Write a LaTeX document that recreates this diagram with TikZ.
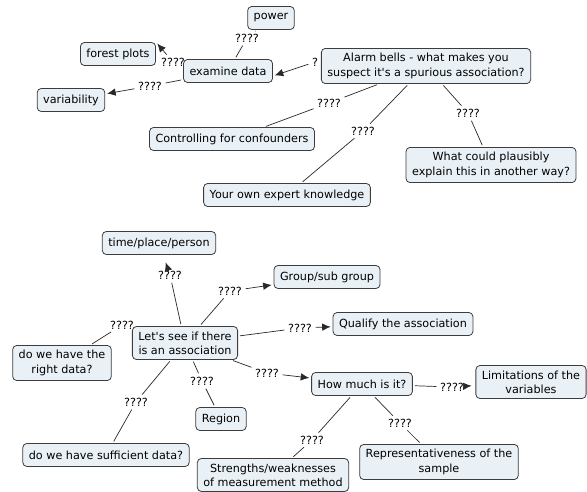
\documentclass[tikz,border=0pt]{standalone}
\usepackage{fontspec}
\setmainfont{DejaVu Sans}
\usepackage{xcolor}
\usepackage{tikz}
\usetikzlibrary{arrows.meta}
\definecolor{mapfill}{RGB}{234,241,246}
\definecolor{mapborder}{RGB}{60,60,60}
\definecolor{mapedge}{RGB}{40,40,40}
\tikzset{
  mapnode/.style={rectangle, rounded corners=4pt, draw=mapborder, line width=0.8pt, fill=mapfill, align=center, inner xsep=6pt, inner ysep=5pt, minimum height=23pt, font=\fontsize{11.2}{14.3}\selectfont},
  maplabel/.style={inner sep=1.5pt, font=\fontsize{11.2}{14.3}\selectfont},
  mapline/.style={draw=mapedge, line width=0.7pt, shorten <=2pt, shorten >=2pt},
  maparrow/.style={mapline, -{Latex[length=8.5pt,width=7.5pt]}}
}
\begin{document}
\begin{tikzpicture}[x=1pt, y={(0pt,-1pt)}]
\useasboundingbox (0,0) rectangle (587,492);

\node[mapnode] (power) at (271,18) {power};
\node[mapnode] (forest) at (118,54) {forest plots};
\node[mapnode] (examine) at (228,71) {examine data};
\node[mapnode] (variab) at (71,100) {variability};
\node[mapnode] (alarm) at (426,66) {Alarm bells - what makes you\\suspect it\textquotesingle s a spurious association?};
\node[mapnode] (control) at (232,139) {Controlling for confounders};
\node[mapnode] (plaus) at (491,165) {What could plausibly\\explain this in another way?};
\node[mapnode] (expert) at (287,195) {Your own expert knowledge};

\node[mapnode] (tpp) at (159,243) {time/place/person};
\node[mapnode] (group) at (327,277) {Group/sub group};
\node[mapnode] (letssee) at (185,343) {Let\textquotesingle s see if there\\is an association};
\node[mapnode] (qualify) at (403,324) {Qualify the association};
\node[mapnode] (rightdata) at (62,363) {do we have the\\right data?};
\node[mapnode] (region) at (221,419) {Region};
\node[mapnode] (howmuch) at (362,384) {How much is it?};
\node[mapnode] (limits) at (531,382) {Limitations of the\\variables};
\node[mapnode] (suffic) at (106,455) {do we have sufficient data?};
\node[mapnode] (strength) at (273,475) {Strengths/weaknesses\\of measurement method};
\node[mapnode] (repres) at (439,462) {Representativeness of the\\sample};

\node[maplabel] (l-power) at (247,38) {????};
\node[maplabel] (l-forest) at (173,62) {????};
\node[maplabel] (l-variab) at (150,86) {????};
\node[maplabel] (l-alarm) at (315,62) {?};
\node[maplabel] (l-control) at (329,103) {????};
\node[maplabel] (l-expert) at (363,131) {????};
\node[maplabel] (l-plaus) at (468,113) {????};
\node[maplabel] (l-tpp) at (170,275) {????};
\node[maplabel] (l-group) at (230,291) {????};
\node[maplabel] (l-qualify) at (300,328) {????};
\node[maplabel] (l-howmuch) at (267,373) {????};
\node[maplabel] (l-right) at (122,325) {????};
\node[maplabel] (l-region) at (202,381) {????};
\node[maplabel] (l-suffic) at (136,402) {????};
\node[maplabel] (l-limits) at (452,387) {????};
\node[maplabel] (l-strength) at (312,440) {????};
\node[maplabel] (l-repres) at (400,423) {????};

\draw[mapline] (examine) -- (l-power);
\draw[mapline] (l-power) -- (power);
\draw[maparrow] (l-forest) -- (forest.north east);
\draw[mapline] (examine) -- (l-variab);
\draw[maparrow] (l-variab) -- (variab);
\draw[maparrow] (l-alarm) -- ([yshift=-5pt]examine.east);
\draw[mapline] (alarm) -- (l-control);
\draw[mapline] (l-control) -- (control);
\draw[mapline] (alarm) -- (l-expert);
\draw[mapline] (l-expert) -- (expert);
\draw[mapline] (alarm) -- (l-plaus);
\draw[mapline] (l-plaus) -- (plaus);

\draw[mapline] (letssee) -- (l-tpp);
\draw[maparrow, shorten >=8pt] (l-tpp) -- (tpp);
\draw[mapline] (letssee) -- (l-group);
\draw[maparrow] (l-group) -- (group);
\draw[mapline] (letssee) -- (l-qualify);
\draw[maparrow] (l-qualify) -- (qualify);
\draw[mapline] (letssee) -- (l-howmuch);
\draw[maparrow] (l-howmuch) -- (howmuch);
\draw[mapline] (letssee) -- (l-right);
\draw[mapline] (l-right) -- (rightdata);
\draw[mapline] (letssee) -- (l-region);
\draw[mapline] (l-region) -- (region);
\draw[mapline] (letssee) -- (l-suffic);
\draw[mapline] (l-suffic) -- (suffic);
\draw[mapline] (howmuch) -- (l-limits);
\draw[maparrow, shorten >=4pt] (l-limits) -- (limits);
\draw[mapline] (howmuch) -- (l-strength);
\draw[mapline] (l-strength) -- (strength);
\draw[mapline] (howmuch) -- (l-repres);
\draw[mapline] (l-repres) -- (repres);
\end{tikzpicture}
\end{document}
